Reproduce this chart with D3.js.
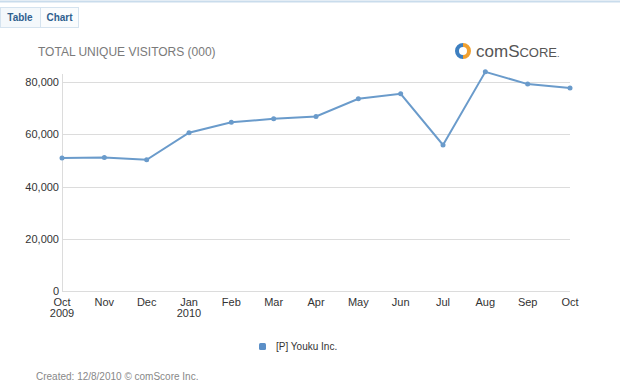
<!DOCTYPE html>
<html>
<head>
<meta charset="utf-8">
<script src="https://cdn.jsdelivr.net/npm/d3@7"></script>
<style>
  body { margin: 0; background: #fff; font-family: "Liberation Sans", Arial, sans-serif; }
  svg text { font-family: "Liberation Sans", Arial, sans-serif; }
</style>
</head>
<body>
<div id="chart"></div>
<script>
// Data
const months = ["Oct", "Nov", "Dec", "Jan", "Feb", "Mar", "Apr", "May", "Jun", "Jul", "Aug", "Sep", "Oct"];
const years = ["2009", "", "", "2010", "", "", "", "", "", "", "", "", ""];
const visitors = [50900, 51100, 50200, 60600, 64600, 65900, 66800, 73600, 75500, 55900, 83900, 79200, 77700];
const yTicks = [0, 20000, 40000, 60000, 80000];
const seriesName = "[P] Youku Inc.";

const W = 620, H = 387;
const margin = { top: 82, right: 50, bottom: 96, left: 62 };
const width = W - margin.left - margin.right;
const height = H - margin.top - margin.bottom;

const root = d3.select("#chart").append("svg")
    .attr("width", W)
    .attr("height", H);

// tabs at the top
root.append("line")
    .attr("x1", 0).attr("x2", W).attr("y1", 1.5).attr("y2", 1.5)
    .attr("stroke", "#c9dcec").attr("stroke-width", 2);
root.append("rect")
    .attr("x", 0.5).attr("y", 7.5).attr("width", 40).attr("height", 20)
    .attr("fill", "#f4f8fb").attr("stroke", "#d5e3ef");
root.append("rect")
    .attr("x", 40.5).attr("y", 7.5).attr("width", 38).attr("height", 20)
    .attr("fill", "#fafcfd").attr("stroke", "#d5e3ef");
root.append("text").attr("x", 20).attr("y", 21).attr("text-anchor", "middle")
    .attr("font-size", 10).attr("font-weight", "bold").attr("fill", "#2f5f8f").text("Table");
root.append("text").attr("x", 59.5).attr("y", 21).attr("text-anchor", "middle")
    .attr("font-size", 10).attr("font-weight", "bold").attr("fill", "#2f5f8f").text("Chart");

// title
root.append("text").attr("x", 38).attr("y", 56)
    .attr("font-size", 12).attr("fill", "#7a7a7a").text("TOTAL UNIQUE VISITORS (000)");

// logo
const logo = root.append("g").attr("transform", "translate(463,51)");
logo.append("path")
    .attr("d", d3.arc()({ innerRadius: 4, outerRadius: 8, startAngle: 0, endAngle: Math.PI }))
    .attr("fill", "#f0a030");
logo.append("path")
    .attr("d", d3.arc()({ innerRadius: 4, outerRadius: 8, startAngle: Math.PI, endAngle: 2 * Math.PI }))
    .attr("fill", "#3d7fc0");
const logoText = root.append("text").attr("x", 476).attr("y", 57).attr("fill", "#555");
logoText.append("tspan").attr("font-size", 17).text("com");
logoText.append("tspan").attr("font-size", 17).text("S");
logoText.append("tspan").attr("font-size", 13).text("CORE");
logoText.append("tspan").attr("font-size", 9).text(".");

const svg = root.append("g")
    .attr("transform", "translate(" + margin.left + "," + margin.top + ")");

const x = d3.scalePoint()
    .domain(d3.range(months.length))
    .range([0, width]);

const y = d3.scaleLinear()
    .domain([0, 80000])
    .range([height, 0]);

// grid
svg.append("g")
    .selectAll("line")
    .data(yTicks)
    .enter()
    .append("line")
    .attr("x1", 0).attr("x2", width)
    .attr("y1", d => Math.round(y(d)) + 0.5).attr("y2", d => Math.round(y(d)) + 0.5)
    .attr("stroke", "#dcdcdc");
svg.append("line")
    .attr("x1", 0.5).attr("x2", 0.5).attr("y1", -8).attr("y2", height)
    .attr("stroke", "#dcdcdc");

// y labels
svg.append("g")
    .selectAll("text")
    .data(yTicks)
    .enter()
    .append("text")
    .attr("x", -3)
    .attr("y", d => y(d) + 4)
    .attr("text-anchor", "end")
    .attr("font-size", 11)
    .attr("fill", "#333")
    .text(d => d3.format(",")(d));

// x labels
const xl = svg.append("g")
    .selectAll("text")
    .data(months)
    .enter()
    .append("text")
    .attr("x", (d, i) => x(i))
    .attr("y", height + 15)
    .attr("text-anchor", "middle")
    .attr("font-size", 11)
    .attr("fill", "#333");
xl.append("tspan").text(d => d);
xl.append("tspan")
    .attr("x", (d, i) => x(i))
    .attr("dy", 11)
    .text((d, i) => years[i]);

// line
const color = "#6a9bcb";
svg.append("path")
    .datum(visitors)
    .attr("fill", "none")
    .attr("stroke", color)
    .attr("stroke-width", 2)
    .attr("d", d3.line().x((d, i) => x(i)).y(d => y(d)));

svg.selectAll(".dot")
    .data(visitors)
    .enter()
    .append("circle")
    .attr("class", "dot")
    .attr("cx", (d, i) => x(i))
    .attr("cy", d => y(d))
    .attr("r", 2.5)
    .attr("fill", color);

// legend
root.append("rect")
    .attr("x", 259).attr("y", 343).attr("width", 7).attr("height", 7).attr("rx", 1.5)
    .attr("fill", "#5b8fc7");
root.append("text").attr("x", 276).attr("y", 350)
    .attr("font-size", 10).attr("fill", "#333").text(seriesName);

// footer
root.append("text").attr("x", 36).attr("y", 380)
    .attr("font-size", 10).attr("fill", "#888").text("Created: 12/8/2010 \u00a9 comScore Inc.");
</script>
</body>
</html>
